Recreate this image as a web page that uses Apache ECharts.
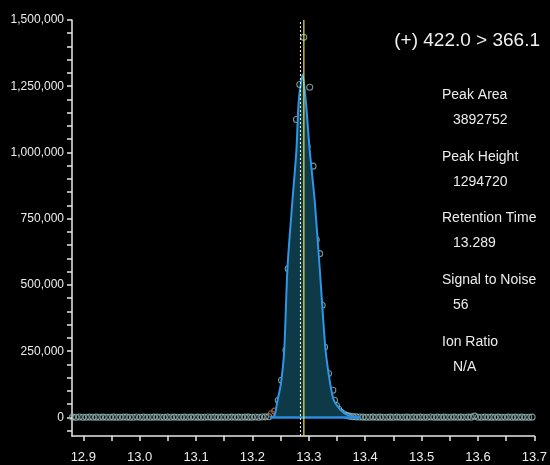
<!DOCTYPE html>
<html>
<head>
<meta charset="utf-8">
<script src="https://cdn.jsdelivr.net/npm/echarts@6/dist/echarts.min.js"></script>
<style>
  html, body { margin: 0; padding: 0; background: #000; }
  #chart { width: 550px; height: 465px; }
</style>
</head>
<body>
<div id="chart"></div>
<script>
// tick labels
var xLabelValues = [12.9, 13.0, 13.1, 13.2, 13.3, 13.4, 13.5, 13.6, 13.7];
var xTickValues = [12.9, 12.95, 13.0, 13.05, 13.1, 13.15, 13.2, 13.25, 13.3, 13.35, 13.4, 13.45, 13.5, 13.55, 13.6, 13.65, 13.7];
var yLabelValues = [0, 250000, 500000, 750000, 1000000, 1250000, 1500000];
var yTickValues = [-50000, 0, 50000, 100000, 150000, 200000, 250000, 300000, 350000, 400000, 450000, 500000,
  550000, 600000, 650000, 700000, 750000, 800000, 850000, 900000, 950000, 1000000, 1050000, 1100000,
  1150000, 1200000, 1250000, 1300000, 1350000, 1400000, 1450000, 1500000];

// raw scans, left of the peak
var leftTimes = [12.881, 12.887, 12.893, 12.899, 12.905, 12.911, 12.917, 12.923, 12.929, 12.935, 12.941, 12.947,
  12.953, 12.959, 12.965, 12.971, 12.977, 12.983, 12.989, 12.995, 13.001, 13.007, 13.013, 13.019, 13.025, 13.031,
  13.037, 13.043, 13.049, 13.055, 13.061, 13.067, 13.073, 13.079, 13.085, 13.091, 13.097, 13.103, 13.109, 13.115,
  13.121, 13.127, 13.133, 13.139, 13.145, 13.151, 13.157, 13.163, 13.169, 13.175, 13.181, 13.187, 13.193, 13.199,
  13.205, 13.211, 13.217, 13.223, 13.229];
var leftCounts = [1200, 800, 1500, 1000, 600, 1300, 900, 1100, 700, 1400, 1000, 800, 1200, 600, 900, 1300, 1100, 700,
  1000, 1500, 800, 1200, 900, 600, 1100, 1300, 1000, 700, 1200, 900, 1400, 800, 1000, 1100, 600, 1300, 900, 1200,
  800, 1000, 1500, 700, 1100, 900, 1200, 1000, 800, 1300, 600, 1100, 900, 1400, 1200, 800, 1600, 1000, 1800, 2200, 2600];

// raw scans across the peak
var peakTimes = [13.2458, 13.2516, 13.2594, 13.2634, 13.2740, 13.2780, 13.2840, 13.2910, 13.2968, 13.3016, 13.3074,
  13.3132, 13.3192, 13.3237, 13.3280, 13.3350, 13.3426, 13.3455, 13.349, 13.353, 13.357, 13.362, 13.367, 13.372, 13.378];
var peakCounts = [65200, 140600, 253700, 561600, 703400, 1124400, 1256300, 1434600, 1023700, 1246100, 948400,
  670900, 618200, 423300, 266100, 165800, 102900, 65200, 45000, 31000, 20000, 13000, 8000, 5000, 3000];

// flagged scans (orange)
var flagTimes = [13.2335, 13.2395];
var flagCounts = [14000, 24000];

// raw scans, right of the peak
var rightTimes = [13.384, 13.390, 13.396, 13.402, 13.408, 13.414, 13.420, 13.426, 13.432, 13.438, 13.444, 13.450,
  13.456, 13.462, 13.468, 13.474, 13.480, 13.486, 13.492, 13.498, 13.504, 13.510, 13.516, 13.522, 13.528, 13.534,
  13.540, 13.546, 13.552, 13.558, 13.564, 13.570, 13.576, 13.582, 13.588, 13.594, 13.600, 13.606, 13.612, 13.618,
  13.624, 13.630, 13.636, 13.642, 13.648, 13.654, 13.660, 13.666, 13.672, 13.678, 13.684, 13.690, 13.696];
var rightCounts = [2000, 1500, 1200, 1000, 900, 1300, 800, 1100, 1000, 700, 1200, 900, 1400, 800, 1000, 1100, 600,
  1300, 900, 1200, 800, 1000, 1500, 700, 1100, 900, 1200, 1000, 800, 1300, 600, 1100, 900, 1400, 1200, 5000, 1000,
  800, 1300, 900, 1100, 700, 1200, 1000, 800, 1300, 900, 1100, 700, 1200, 1000, 900, 1100];

// smoothed fit of the peak
var fitTimes = [13.2312, 13.2388, 13.2446, 13.2506, 13.2564, 13.2622, 13.2710, 13.2780, 13.2822, 13.2890,
  13.2946, 13.3016, 13.3104, 13.3192, 13.3232, 13.3297, 13.3378, 13.3443, 13.3566, 13.3689, 13.3918];
var fitCounts = [0, 5000, 65000, 129000, 254000, 567000, 819000, 1008000, 1196000, 1294720,
  1196000, 1008000, 819000, 567000, 442000, 254000, 129000, 65000, 28000, 9000, 0];

// integration baseline
var baseTimes = [13.2312, 13.3918];
var baseCounts = [0, 0];

// vertical markers, drawn across the full y range
var markerSpan = [-70000, 1500000];
var retentionTime = 13.2912;
var apexMarker = 13.2852;

var titleText = '(+) 422.0 > 366.1';
var infoLabels = ['Peak Area', 'Peak Height', 'Retention Time', 'Signal to Noise', 'Ion Ratio'];
var infoValues = ['3892752', '1294720', '13.289', '56', 'N/A'];

function zip(a, b) {
  var out = [];
  for (var i = 0; i < a.length; i++) out.push([a[i], b[i]]);
  return out;
}

var font = '"Liberation Sans Narrow", "Liberation Sans", sans-serif';
var chart = echarts.init(document.getElementById('chart'));

var graphics = [{
  type: 'text', right: 10, top: 31,
  style: { text: titleText, fill: '#f0f0f0', font: '19px ' + font }
}];
for (var i = 0; i < infoLabels.length; i++) {
  graphics.push({
    type: 'text', left: 442, top: 88 + i * 61.8,
    style: { text: infoLabels[i], fill: '#ececec', font: '14px ' + font }
  });
  graphics.push({
    type: 'text', left: 453, top: 113 + i * 61.8,
    style: { text: infoValues[i], fill: '#ececec', font: '14px ' + font }
  });
}

var scanData = zip(leftTimes, leftCounts).concat(zip(peakTimes, peakCounts), zip(rightTimes, rightCounts));

function vline(x, style) {
  return {
    type: 'line', data: [[x, markerSpan[0]], [x, markerSpan[1]]], symbol: 'none',
    silent: true, lineStyle: style, z: 5
  };
}

chart.setOption({
  backgroundColor: '#000',
  animation: false,
  grid: { left: 72, right: 12, top: 20, bottom: 29 },
  xAxis: {
    type: 'value', min: 12.88, max: 13.7,
    axisLine: { onZero: false, lineStyle: { color: '#e8e8e8', width: 1.5 } },
    axisTick: { customValues: xTickValues, length: 5, lineStyle: { color: '#e8e8e8', width: 1.5 } },
    axisLabel: {
      customValues: xLabelValues, color: '#ececec', fontSize: 13, fontFamily: font, margin: 15,
      formatter: function (v) { return v.toFixed(1); }
    },
    splitLine: { show: false }
  },
  yAxis: {
    type: 'value', min: -70000, max: 1500000,
    axisLine: { show: true, onZero: false, lineStyle: { color: '#e8e8e8', width: 1.5 } },
    axisTick: { show: true, customValues: yTickValues, length: 5, lineStyle: { color: '#e8e8e8', width: 1.5 } },
    axisLabel: {
      customValues: yLabelValues, color: '#ececec', fontSize: 12, fontFamily: font, margin: 8,
      formatter: function (v) { return v.toLocaleString('en-US'); }
    },
    splitLine: { show: false }
  },
  graphic: graphics,
  series: [
    {
      type: 'line', data: zip(fitTimes, fitCounts), smooth: 0.25, symbol: 'none',
      lineStyle: { color: '#2f95e6', width: 2 },
      areaStyle: { color: '#0d3a46', opacity: 1 }
    },
    {
      type: 'line', data: zip(baseTimes, baseCounts), symbol: 'none',
      lineStyle: { color: '#2a8ce2', width: 2.5 }
    },
    {
      type: 'scatter', data: scanData, symbol: 'circle', symbolSize: 6,
      itemStyle: { color: 'rgba(0,0,0,0)', borderColor: '#95b8b8', borderWidth: 1.1 }
    },
    {
      type: 'scatter', data: zip(flagTimes, flagCounts), symbol: 'circle', symbolSize: 6,
      itemStyle: { color: 'rgba(0,0,0,0)', borderColor: '#c0703a', borderWidth: 1.2 }
    },
    vline(apexMarker, { color: '#f2f2f2', type: [2, 2], width: 1 }),
    vline(retentionTime, { color: '#f3e24a', type: 'solid', width: 1.2 })
  ]
});
</script>
</body>
</html>
